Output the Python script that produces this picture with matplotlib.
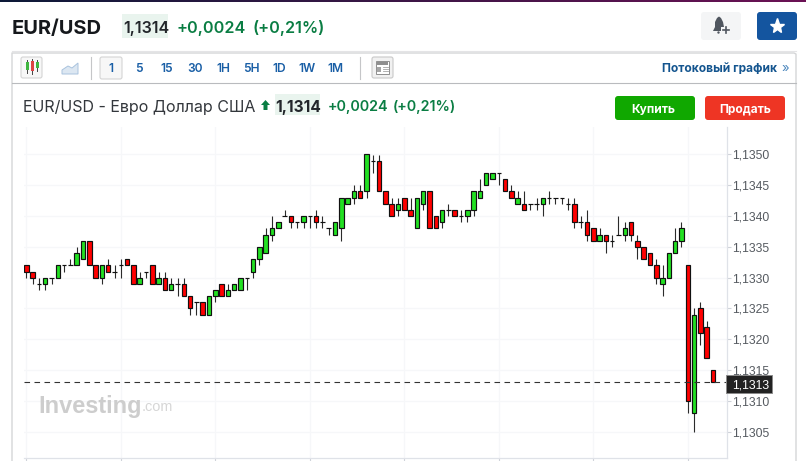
import matplotlib
matplotlib.use("Agg")
import matplotlib.pyplot as plt
from matplotlib.patches import FancyBboxPatch, Rectangle, Polygon, Circle
import numpy as np

W, H = 806, 461
PIP = 0.0001
BASE = 1.13

opens = [32,31,29,29,30,30,32,32,32,33,36,32,30,32,31,32,33,32,29,31,32,29,30,28,29,29,27,26,26,24,
         27,29,27,28,28,30,31,33,34,37,38,40,40,39,39,40,40,39,38,37,38,42,43,44,44,49,49,44,42,41,
         43,41,38,42,44,40,39,41,41,40,40,41,43,45,46,47,46,44,42,42,42,42,42,43,43,43,42,42,39,39,
         38,36,37,36,37,37,39,36,35,34,32,29,30,34,36,32,8,25,22,15]
highs = [32,31,30,30,30,32,32,33,35,36,36,32,32,33,32,33,33,32,31,31,32,31,31,30,30,30,27,26,26,27,
         28,29,29,29,30,30,33,35,38,40,39,41,40,39,40,40,41,40,38,39,43,43,45,45,50,50,50,44,43,43,
         43,43,43,44,44,40,41,42,41,41,41,44,46,47,47,47,46,45,44,44,42,43,43,44,43,43,43,43,40,41,
         38,38,37,37,40,39,39,37,35,34,33,32,34,38,39,32,25,26,23,15]
lows = [30,29,28,28,29,30,31,32,32,33,32,30,29,31,30,30,32,29,29,30,29,29,28,28,27,27,24,24,24,24,
        26,27,27,28,28,28,30,32,34,36,38,40,38,38,38,38,38,38,37,37,36,42,42,43,43,47,44,42,40,40,
        41,40,38,41,38,38,38,40,40,39,39,40,43,45,46,45,44,43,42,41,41,41,40,42,42,42,41,38,38,36,
        36,36,34,35,37,36,36,33,33,32,29,27,30,34,35,8,5,19,17,13]
closes = [31,30,29,30,30,32,32,32,34,36,32,30,32,31,31,32,32,29,30,31,29,30,28,29,29,27,25,26,24,27,
          28,27,28,29,30,30,33,35,37,38,39,40,39,39,40,40,39,39,38,39,43,43,44,43,50,49,44,42,40,42,
          41,40,43,44,38,38,41,41,40,40,41,44,44,47,47,47,44,43,43,41,42,42,43,43,43,43,42,39,39,37,
          36,37,36,36,37,38,37,35,33,32,30,30,34,36,38,10,24,21,17,13]
price_ticks = [1.1305,1.1310,1.1315,1.1320,1.1325,1.1330,1.1335,1.1340,1.1345,1.1350]
last_price = 1.1313
intervals = ["1","5","15","30","1H","5H","1D","1W","1M"]

FONT = "Inter"
BLUE = "#1a5fa6"
GREEN_T = "#0a7d43"
DARK = "#1f2227"

fig = plt.figure(figsize=(W/100, H/100), dpi=100, facecolor="white")

def px_axes(z):
    a = fig.add_axes([0,0,1,1], zorder=z)
    a.set_xlim(0,W); a.set_ylim(H,0); a.axis("off"); a.patch.set_alpha(0)
    return a

bg = px_axes(0)
fg = px_axes(5)

# top gradient strip
grad = np.linspace(0,1,256)[None,:,None]
c1, c2 = np.array([0.05,0.10,0.22]), np.array([0.42,0.07,0.33])
bg.imshow(c1+(c2-c1)*grad, extent=[0,W,2,0], aspect="auto", zorder=1)
bg.set_xlim(0,W); bg.set_ylim(H,0)

def box(a,x0,y0,x1,y1,fc,ec="none",r=0,lw=0.8,z=2):
    if r:
        p = FancyBboxPatch((x0+r,y0+r),x1-x0-2*r,y1-y0-2*r,boxstyle=f"round,pad={r},rounding_size={r}",
                           fc=fc,ec=ec,lw=lw,zorder=z)
    else:
        p = Rectangle((x0,y0),x1-x0,y1-y0,fc=fc,ec=ec,lw=lw,zorder=z)
    a.add_patch(p)

def txt(a,x,y,s,size,color=DARK,weight="normal",ha="left",family=FONT,z=4):
    a.text(x,y,s,fontsize=size*0.72,color=color,fontweight=weight,ha=ha,va="center_baseline",
           family=family,zorder=z)

# header
txt(bg,12,26.5,"EUR/USD",20,"#15181c","bold")
box(bg,122,14,168,38,"#e9f4ee")
txt(bg,123,26.5,"1,1314",16,"#23262b","semibold")
txt(bg,177,26.5,"+0,0024",16.2,GREEN_T,"semibold")
txt(bg,253,26.5,"(+0,21%)",16.2,GREEN_T,"semibold")

# alert and favourite buttons
box(bg,701,12,741,40,"#f4f5f6",r=3)
bg.add_patch(Polygon([(713,31),(715,27),(715,22),(717,18),(719,16.5),(721,18),(723,22),(724,27),(725,31)],fc="#50565f",ec="none",zorder=4))
bg.add_patch(Circle((718.5,32.5),1.2,fc="#50565f",ec="none",zorder=4))
box(bg,721,27,731,33,"#f4f5f6",z=5)
bg.plot([722.5,729],[30,30],color="#50565f",lw=1.2,zorder=6)
bg.plot([725.7,725.7],[26.8,33.2],color="#50565f",lw=1.2,zorder=6)
box(bg,757,12,797,40,"#14559f",r=3)
bg.plot([777],[26],marker="*",ms=11,color="white",mec="white",zorder=4)

# panel frame
bg.plot([12,12,794,796,796],[461,53,53,54,461],color="#d5d6d8",lw=1.0,zorder=2)
bg.plot([12,796],[51.5,51.5],color="#e4e4e6",lw=0.8,zorder=2)
bg.plot([12,796],[83,83],color="#b9bbbe",lw=0.8,zorder=2)

# toolbar
box(bg,21,57,42,78,"#f7f7f7",ec="#d4d4d4",r=2)
for x,y0,y1,c in [(27,62,70,"#3fb53f"),(32,61,71,"#dd4444"),(37,62,68,"#3fb53f")]:
    bg.plot([x,x],[y0-2,y1+3],color="#444444",lw=0.7,zorder=3)
    box(bg,x-1.5,y0,x+1.5,y1,c,z=4)
bg.add_patch(Polygon([(62,74),(62,70),(68,66),(72,68),(78,63),(78,74)],fc="#dce7f2",ec="#a9c3de",lw=0.7,zorder=3))
bg.plot([91,91],[57,79],color="#c5c6c8",lw=0.8,zorder=2)
bg.plot([360,360],[57,79],color="#c5c6c8",lw=0.8,zorder=2)
box(bg,100,57,122,79,"#f7f7f7",ec="#d4d4d4",r=2)
for s,x in zip(intervals,[111,139,167,195,223,251,279,307,335]):
    txt(bg,x,68,s,12,BLUE,"semibold",ha="center")
box(bg,372,57,393,78,"#f1f1f1",ec="#c9c9c9",r=2)
box(bg,376,61,389,74,"#ffffff",ec="#8f8f8f",lw=0.7,z=3)
box(bg,377,62,388,65,"#8f8f8f",z=4)
box(bg,377,67,381,72,"#a5a5a5",z=4)
for y in (67.5,69.5,71.5):
    bg.plot([383,388],[y,y],color="#a5a5a5",lw=0.6,zorder=4)
txt(bg,662,68,"Потоковый график",12,"#14558f","bold")
txt(bg,781,67.5,"»",13,"#4a86bd")

# sub-header
txt(bg,23,105.5,"EUR/USD - Евро Доллар США",16,"#33373c")
bg.add_patch(Polygon([(261,105),(265.5,100),(270,105),(267.5,105),(267.5,110),(263.5,110),(263.5,105)],fc="#0a7d43",ec="none",zorder=4))
box(bg,275,94,320,115,"#e9f4ee")
txt(bg,275.5,105.5,"1,1314",15.5,"#23262b","bold")
txt(bg,328,105.5,"+0,0024",14.3,GREEN_T,"semibold")
txt(bg,393,105.5,"(+0,21%)",14.3,GREEN_T,"semibold")
box(bg,615,96,695,120,"#10a800",r=3)
txt(bg,653,108,"Купить",12,"white","bold",ha="center")
box(bg,705,96,785,120,"#ee3524",r=3)
txt(bg,745,108,"Продать",12,"white","bold",ha="center")

# chart axes: candle 0 at px 26.3, spacing 6.3; 1.1350 at y 154.5, 6.16 px per pip
L, R, T, B = 24, 726.7, 127, 458
ax = fig.add_axes([L/W, 1-B/H, (R-L)/W, (B-T)/H], zorder=2)
ax.patch.set_alpha(0)
ax.set_xlim((L-26.3)/6.3, (R-26.3)/6.3)
ax.set_ylim(BASE+(50-(B-154.5)/6.16)*PIP, BASE+(50-(T-154.5)/6.16)*PIP)

o = BASE+np.array(opens)*PIP
h = BASE+np.array(highs)*PIP
l = BASE+np.array(lows)*PIP
c = BASE+np.array(closes)*PIP
xs = np.arange(len(o))
cols = ["#22e022" if b>a else "#ff0000" for a,b in zip(o,c)]
ax.vlines(xs,l,h,color="#2b2b2b",lw=0.8,zorder=3)
ax.bar(xs,c-o,bottom=o,width=0.7,color=cols,edgecolor="#111111",linewidth=0.85,zorder=4)

ax.set_yticks(price_ticks)
ax.set_yticklabels([f"{t:.4f}".replace(".",",") for t in price_ticks],family="Liberation Sans",fontsize=8.7,color="#555a60")
ax.yaxis.tick_right()
ax.set_xticks(np.arange(0,len(o),15))
ax.set_xticklabels([])
ax.tick_params(axis="y",length=3,width=0.8,color="#cfd3da",pad=1)
ax.tick_params(axis="x",length=3,width=0.8,color="#cfd3da")
ax.grid(True,color="#f6f7f9",lw=0.9,zorder=0)
ax.set_axisbelow(True)
for s in ("left","top"):
    ax.spines[s].set_visible(False)
for s in ("right","bottom"):
    ax.spines[s].set_color("#dfe2e8"); ax.spines[s].set_linewidth(0.9)
ax.axhline(last_price,color="#333333",lw=0.8,dashes=(5,4),zorder=5)

# last-price tag
box(fg,726,375,772,393,"#222222",ec="#8a8a8a",lw=0.7)
txt(fg,732.5,384,f"{last_price:.4f}".replace(".",","),12.3,"white",family="Liberation Sans",z=6)

# watermark
txt(fg,38,403.5,"Investing",23.5,"#cdcdcd","bold",family="Liberation Sans")
txt(fg,142,405.5,".com",14.5,"#d6d6d6",family="Liberation Sans")

fig.savefig("out.png",dpi=100)
